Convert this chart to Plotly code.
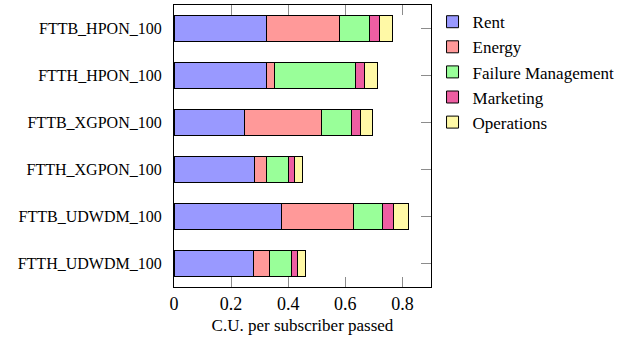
import plotly.graph_objects as go

# Cost breakdown per architecture (C.U. per subscriber passed)
architectures = ["FTTB_HPON_100", "FTTH_HPON_100", "FTTB_XGPON_100",
                 "FTTH_XGPON_100", "FTTB_UDWDM_100", "FTTH_UDWDM_100"]

rent = [0.324, 0.324, 0.248, 0.282, 0.375, 0.278]
energy = [0.254, 0.028, 0.268, 0.042, 0.252, 0.056]
failure_management = [0.105, 0.282, 0.105, 0.078, 0.104, 0.078]
marketing = [0.035, 0.033, 0.031, 0.020, 0.036, 0.021]
operations = [0.047, 0.044, 0.043, 0.028, 0.053, 0.029]

x_ticks = [0, 0.2, 0.4, 0.6, 0.8]
x_tick_labels = ["0", "0.2", "0.4", "0.6", "0.8"]

components = [
    ("Rent", rent, "#9999ff"),
    ("Energy", energy, "#ff9999"),
    ("Failure Management", failure_management, "#99ff99"),
    ("Marketing", marketing, "#ee5ea2"),
    ("Operations", operations, "#fff9a6"),
]

font_family = "Times New Roman, Liberation Serif, serif"

fig = go.Figure()
for i, (name, values, color) in enumerate(components):
    fig.add_trace(go.Bar(
        y=architectures,
        x=values,
        name=name,
        orientation="h",
        width=0.54,
        marker=dict(color=color, line=dict(color="black", width=1)),
        legendgroup=f"g{i}",
    ))

fig.update_layout(
    width=622,
    height=339,
    barmode="stack",
    plot_bgcolor="white",
    paper_bgcolor="white",
    font=dict(family=font_family, size=16, color="black"),
    margin=dict(l=174, r=191, t=5, b=52, autoexpand=False),
    showlegend=True,
    legend=dict(
        x=1.006, y=1.003, xanchor="left", yanchor="top",
        traceorder="normal",
        tracegroupgap=5,
        font=dict(size=17),
        bgcolor="rgba(0,0,0,0)",
        itemwidth=30,
    ),
    xaxis=dict(
        range=[0, 0.9],
        tickvals=x_ticks,
        ticktext=x_tick_labels,
        ticks="inside",
        ticklen=10,
        tickcolor="#8c8c8c",
        tickwidth=1,
        showgrid=False,
        zeroline=False,
        showline=True,
        linecolor="black",
        linewidth=1.2,
        mirror="ticks",
        layer="below traces",
        tickfont=dict(size=18),
        title=dict(text="C.U. per subscriber passed",
                   font=dict(size=17), standoff=6),
    ),
    yaxis=dict(
        categoryorder="array",
        categoryarray=architectures,
        autorange="reversed",
        ticks="inside",
        ticklen=10,
        tickcolor="#8c8c8c",
        tickwidth=1,
        showgrid=False,
        zeroline=False,
        showline=True,
        linecolor="black",
        linewidth=1.2,
        mirror="ticks",
        layer="below traces",
        ticklabelstandoff=8,
        tickfont=dict(size=16),
    ),
)

fig.write_html("out.html")
